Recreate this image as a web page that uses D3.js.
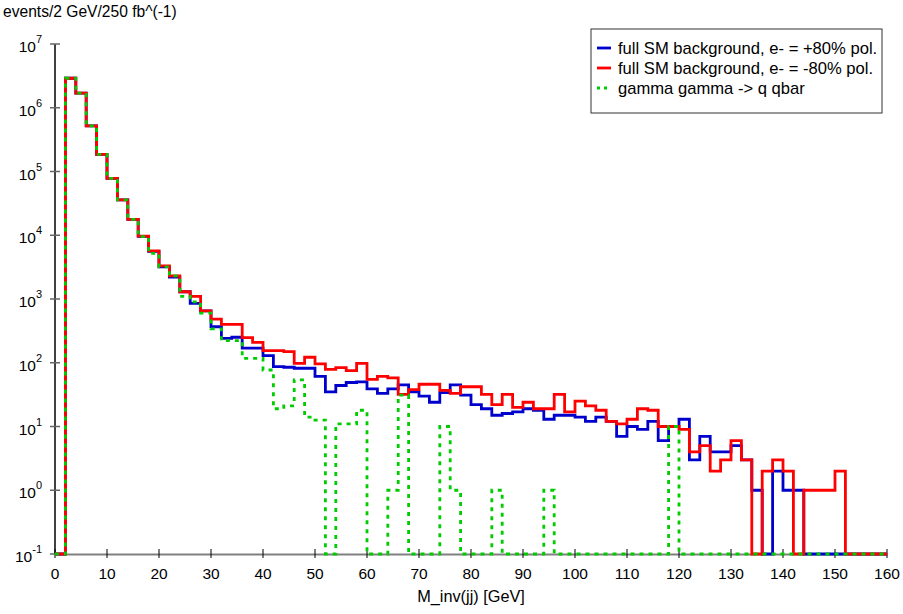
<!DOCTYPE html>
<html>
<head>
<meta charset="utf-8">
<script src="https://cdnjs.cloudflare.com/ajax/libs/d3/7.8.5/d3.min.js"></script>
<style>
	body { margin: 0; background: #fff; }
	text { font-family: "Liberation Sans", Arial, sans-serif; fill: #000; }
</style>
</head>
<body>
<div id="chart-area"></div>
<script>

// bin width is 2 GeV, 80 bins from 0 to 160
var binWidth = 2;

// full SM background, e- = +80% pol.
var bluePlus80 = [0, 2.9e6, 1.69e6, 5.2e5, 1.86e5, 7.8e4, 3.6e4, 1.78e4, 9.6e3, 5.6e3,
	3.2e3, 2.2e3, 1.3e3, 855, 650, 367, 241, 251, 169, 169,
	129, 87, 85, 82, 82, 61, 35, 44, 49, 50,
	39, 33, 39, 45, 35, 30, 24, 34, 45, 31,
	22, 19, 15, 16, 17, 19, 18, 13, 15, 15,
	14, 12, 14, 12, 7, 10, 9, 12, 6, 10,
	13, 3, 7, 4, 4, 5, 3, 1, 0, 2,
	1, 1, 0, 0, 0, 0, 0, 0, 0, 0];

// full SM background, e- = -80% pol.
var redMinus80 = [0, 2.9e6, 1.69e6, 5.2e5, 1.86e5, 7.8e4, 3.6e4, 1.78e4, 9.7e3, 5.7e3,
	3.3e3, 2.3e3, 1.3e3, 1.1e3, 650, 485, 400, 400, 247, 209,
	155, 155, 149, 98, 122, 96, 79, 84, 75, 98,
	55, 61, 58, 32, 38, 46, 46, 37, 33, 42,
	42, 32, 22, 32, 20, 24, 19, 19, 32, 17,
	25, 21, 18, 12, 11, 13, 19, 18, 10, 10,
	9, 4, 5, 2, 3, 6, 3, 0, 2, 3,
	2, 0, 1, 1, 1, 2, 0, 0, 0, 0];

// gamma gamma -> q qbar
var greenGamGam = [0, 2.9e6, 1.69e6, 5.2e5, 1.86e5, 7.8e4, 3.6e4, 1.78e4, 9.5e3, 5.2e3,
	3.2e3, 2.3e3, 1.1e3, 900, 600, 340, 222, 222, 117, 117,
	77, 19, 21, 54, 14, 12.6, 0, 11, 11, 18,
	0, 0, 1, 31, 0, 0, 0, 10, 1, 0,
	0, 0, 1, 0, 0, 0, 0, 1, 0, 0,
	0, 0, 0, 0, 0, 0, 0, 0, 0, 10,
	0, 0, 0, 0, 0, 0, 0, 0, 0, 0,
	0, 0, 0, 0, 0, 0, 0, 0, 0, 0];

var xTicks = [0, 10, 20, 30, 40, 50, 60, 70, 80, 90, 100, 110, 120, 130, 140, 150, 160];
var yExponents = [-1, 0, 1, 2, 3, 4, 5, 6, 7];

var legendLabels = ["full SM background, e- = +80% pol.", "full SM background, e- = -80% pol.", "gamma gamma -> q qbar"];
var seriesColors = ["#0000cc", "#ff0000", "#00cc00"];

var vis = {};
vis.margin = { top: 44, right: 16, bottom: 60, left: 55 };
vis.width = 903 - vis.margin.left - vis.margin.right;
vis.height = 614 - vis.margin.top - vis.margin.bottom;

vis.svg = d3.select("#chart-area").append("svg")
	.attr("width", 903)
	.attr("height", 614);

var g = vis.svg.append("g")
	.attr("transform", "translate(" + vis.margin.left + "," + vis.margin.top + ")");

var x = d3.scaleLinear().domain([0, 160]).range([0, vis.width]);
var y = d3.scaleLog().domain([0.1, 1e7]).range([vis.height, 0]);

// x axis: grey line, black ticks crossing it
var xAxis = g.append("g")
	.attr("transform", "translate(0," + vis.height + ")")
	.call(d3.axisBottom(x).tickValues(xTicks).tickSizeInner(0).tickSizeOuter(0).tickFormat(""));
xAxis.select(".domain").attr("stroke", "#808080").attr("stroke-width", 2);

xAxis.selectAll(".xtick")
	.data(xTicks)
	.enter()
	.append("line")
	.attr("class", "xtick")
	.attr("x1", function(d){ return x(d); })
	.attr("x2", function(d){ return x(d); })
	.attr("y1", -5)
	.attr("y2", 4)
	.attr("stroke", "#000")
	.attr("stroke-width", 1);

xAxis.selectAll(".xlabel")
	.data(xTicks)
	.enter()
	.append("text")
	.attr("class", "xlabel")
	.attr("x", function(d){ return x(d); })
	.attr("y", 25)
	.attr("text-anchor", "middle")
	.attr("font-size", 15.5)
	.text(function(d){ return d; });

// y axis: black line, grey ticks
g.append("line")
	.attr("x1", 0).attr("x2", 0)
	.attr("y1", 0).attr("y2", vis.height)
	.attr("stroke", "#000")
	.attr("stroke-width", 1.5);

g.selectAll(".ytick")
	.data(yExponents)
	.enter()
	.append("line")
	.attr("class", "ytick")
	.attr("x1", -5)
	.attr("x2", 5)
	.attr("y1", function(d){ return y(Math.pow(10, d)); })
	.attr("y2", function(d){ return y(Math.pow(10, d)); })
	.attr("stroke", "#666")
	.attr("stroke-width", 1.5);

var yLabels = g.selectAll(".ylabel")
	.data(yExponents)
	.enter()
	.append("text")
	.attr("class", "ylabel")
	.attr("x", -13)
	.attr("y", function(d){ return y(Math.pow(10, d)) + 8; })
	.attr("text-anchor", "end")
	.attr("font-size", 15.5);
yLabels.append("tspan").text("10");
yLabels.append("tspan")
	.attr("dy", -9)
	.attr("font-size", 11)
	.text(function(d){ return d; });

// histogram steps
var line = d3.line()
	.x(function(d){ return x(d[0]); })
	.y(function(d){ return y(Math.max(d[1], 0.1)); })
	.curve(d3.curveStepAfter);

function stepPoints(vals){
	var pts = vals.map(function(v, i){ return [i * binWidth, v]; });
	pts.push([vals.length * binWidth, vals[vals.length - 1]]);
	return pts;
}

var allSeries = [bluePlus80, redMinus80, greenGamGam];

g.selectAll(".hist")
	.data(allSeries)
	.enter()
	.append("path")
	.attr("class", "hist")
	.attr("d", function(d){ return line(stepPoints(d)); })
	.attr("fill", "none")
	.attr("stroke", function(d, i){ return seriesColors[i]; })
	.attr("stroke-width", 2.8)
	.attr("stroke-dasharray", function(d, i){ return i == 2 ? "4,5" : null; });

// legend
var legend = vis.svg.append("g").attr("transform", "translate(591,29)");
legend.append("rect")
	.attr("width", 291)
	.attr("height", 84)
	.attr("fill", "#fff")
	.attr("stroke", "#333")
	.attr("stroke-width", 1);

legendLabels.forEach(function(lab, i){
	legend.append("line")
		.attr("x1", 6).attr("x2", 20)
		.attr("y1", 19 + i * 20).attr("y2", 19 + i * 20)
		.attr("stroke", seriesColors[i])
		.attr("stroke-width", 2.8)
		.attr("stroke-dasharray", i == 2 ? "3,4" : null);
	legend.append("text")
		.attr("x", 27)
		.attr("y", 25 + i * 20)
		.attr("font-size", 16.6)
		.text(lab);
});

// axis titles
vis.svg.append("text")
	.attr("x", 3)
	.attr("y", 17)
	.attr("font-size", 15.6)
	.text("events/2 GeV/250 fb^(-1)");

vis.svg.append("text")
	.attr("x", 471)
	.attr("y", 602)
	.attr("text-anchor", "middle")
	.attr("font-size", 16.3)
	.text("M_inv(jj) [GeV]");

</script>
</body>
</html>
